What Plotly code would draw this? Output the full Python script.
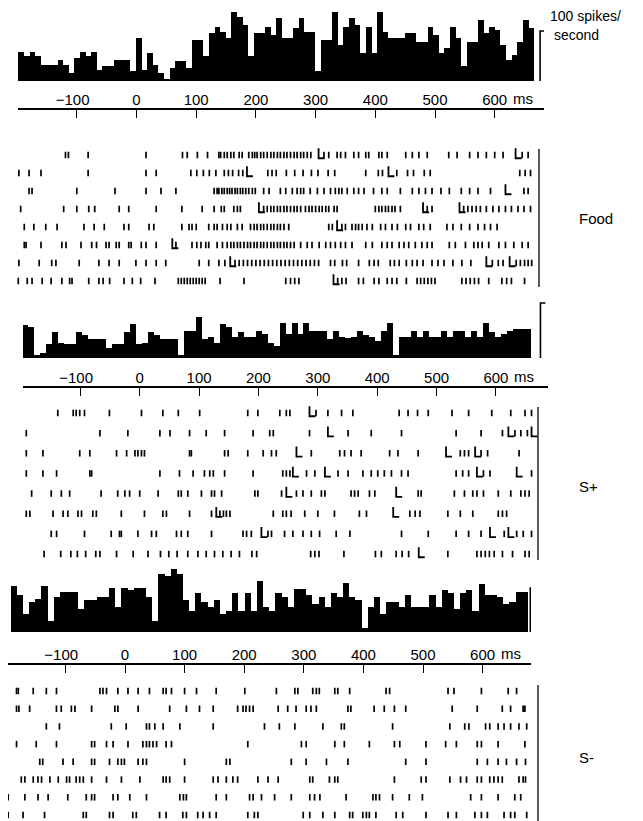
import plotly.graph_objects as go

W, H = 643, 821
FONT = "Liberation Sans, Arial, sans-serif"

# ---------------- data ----------------
TICK_MS = [-100, 0, 100, 200, 300, 400, 500, 600]
TICK_TEXT = ["\u2212100\u00a0\u00a0", "0", "100", "200", "300", "400", "500", "600"]
UNIT = "ms"
SCALE_RATE = 100
SCALE_TEXT = ["100 spikes/", "second"]
CONDITIONS = ["Food", "S+", "S-"]

# PSTH rates (spikes/second), consecutive bins
FOOD_RATE = [59, 50, 59, 50, 33, 33, 33, 43, 33, 17, 46, 59, 50, 59, 23, 30, 30, 43, 43, 43,
             20, 86, 23, 56, 33, 17, 3, 26, 40, 40, 26, 83, 83, 50, 96, 109, 99, 86, 139, 129,
             112, 50, 96, 96, 109, 93, 126, 86, 86, 106, 126, 99, 99, 20, 83, 83, 139, 73, 109, 126,
             112, 56, 109, 56, 139, 99, 86, 86, 86, 96, 96, 79, 79, 109, 93, 56, 66, 109, 86, 30,
             79, 79, 122, 96, 109, 102, 73, 43, 53, 79, 122, 106]
SPLUS_RATE = [60, 56, 6, 9, 25, 47, 28, 26, 25, 47, 41, 34, 34, 34, 19, 25, 25, 47, 61, 25,
              28, 47, 41, 34, 34, 34, 6, 50, 50, 75, 34, 38, 28, 61, 56, 38, 48, 38, 38, 50,
              44, 28, 22, 63, 44, 63, 44, 63, 50, 50, 50, 34, 50, 38, 36, 38, 50, 41, 38, 31,
              50, 63, 6, 38, 38, 50, 38, 50, 38, 38, 50, 38, 50, 50, 38, 50, 38, 63, 47, 38,
              44, 50, 53, 53, 53]
SMINUS_RATE = [104, 84, 40, 68, 76, 104, 24, 80, 90, 90, 90, 52, 73, 73, 80, 80, 101, 56, 101, 96,
               101, 101, 80, 24, 132, 128, 143, 132, 72, 48, 88, 68, 56, 72, 40, 48, 88, 48, 88, 48,
               116, 56, 48, 88, 80, 56, 98, 98, 84, 64, 80, 56, 88, 80, 112, 80, 72, 8, 56, 80,
               40, 68, 68, 56, 84, 56, 56, 56, 84, 56, 96, 88, 52, 88, 96, 48, 108, 84, 84, 80,
               64, 68, 92, 92]
FOOD_BINS = (-198, 666)     # time span of the PSTH (ms)
SPLUS_BINS = (-198, 659)
SMINUS_BINS = (-192, 676)

# rasters: spike times (ms) per trial, and lick/marker events (ms)
FOOD_SPIKES = [
    [-119, -114, -81, 16, 77, 85, 102, 119, 138, 141, 147, 152, 158, 163, 172, 177, 188, 194, 198, 202,
     208, 213, 219, 225, 230, 236, 241, 247, 252, 258, 264, 269, 275, 280, 286, 292, 314, 322, 336, 342,
     350, 364, 372, 384, 389, 406, 411, 420, 451, 462, 473, 487, 523, 537, 558, 572, 586, 600, 614, 646, 656],
    [-197, -180, -160, -81, 16, 33, 91, 101, 112, 122, 133, 147, 154, 161, 171, 178, 220, 227, 234, 251,
     265, 279, 293, 304, 321, 332, 384, 405, 412, 436, 454, 464, 482, 492, 642, 651, 660],
    [-180, -175, -100, -36, 16, 41, 66, 130, 135, 138, 143, 147, 152, 156, 160, 165, 169, 174, 178, 183,
     188, 194, 199, 213, 222, 241, 250, 261, 269, 275, 280, 291, 303, 314, 325, 333, 339, 344, 353, 364,
     372, 381, 397, 411, 420, 442, 462, 473, 484, 495, 510, 524, 544, 558, 572, 593, 649, 656],
    [-194, -122, -100, -80, -70, -29, -13, 33, 76, 110, 130, 142, 147, 163, 169, 174, 213, 219, 225, 230,
     236, 241, 247, 252, 258, 264, 269, 275, 283, 289, 294, 300, 306, 311, 317, 322, 331, 336, 400, 406,
     411, 417, 422, 428, 433, 442, 487, 495, 548, 555, 562, 569, 576, 586, 597, 607, 618, 628, 639, 649, 660],
    [-188, -172, -152, -133, -88, -71, -54, -21, -13, 21, 29, 76, 88, 93, 100, 121, 130, 135, 144, 152,
     158, 169, 177, 191, 197, 202, 208, 213, 219, 225, 230, 236, 241, 247, 255, 322, 328, 344, 350, 361,
     367, 372, 378, 386, 395, 409, 417, 428, 437, 451, 459, 473, 481, 492, 520, 530, 544, 558, 572, 583, 593, 604],
    [-188, -185, -160, -125, -118, -93, -75, -67, -51, -46, -34, -29, -13, -9, 8, 16, 33, 66, 93, 101,
     108, 116, 121, 135, 144, 152, 158, 163, 169, 174, 180, 186, 191, 197, 202, 208, 213, 219, 225, 230,
     236, 241, 247, 252, 258, 264, 275, 286, 294, 306, 317, 325, 333, 342, 350, 361, 384, 395, 411, 420,
     428, 440, 448, 456, 467, 478, 487, 495, 524, 534, 551, 565, 572, 579, 590, 607, 618, 632, 646, 656],
    [-197, -163, -142, -135, -96, -63, -46, -29, -1, 16, 33, 49, 105, 121, 138, 148, 165, 172, 179, 186,
     193, 200, 207, 214, 221, 228, 235, 242, 249, 256, 263, 270, 277, 284, 291, 298, 305, 325, 332, 345,
     352, 372, 390, 398, 405, 425, 432, 440, 452, 462, 470, 480, 495, 505, 515, 530, 545, 560, 596, 606,
     614, 636, 643, 650, 656, 662],
    [-198, -183, -175, -158, -143, -125, -112, -108, -80, -63, -56, -45, -21, -7, 7, 31, 70, 75, 80, 85,
     90, 95, 100, 105, 110, 115, 140, 180, 250, 258, 265, 272, 337, 344, 351, 372, 380, 398, 406, 420,
     428, 436, 452, 470, 476, 482, 488, 494, 500, 545, 552, 559, 566, 573, 590, 612, 620, 628, 650],
]
FOOD_LICKS = [[305, 635], [185, 422], [618], [205, 480, 541], [336], [60], [157, 586, 625], [330]]

SPLUS_SPIKES = [
    [-197, -138, -112, -107, -101, -93, -51, 3, 39, 65, 101, 182, 199, 236, 247, 253, 297, 317, 340, 359,
     437, 452, 468, 486, 526, 554, 593, 625, 649, 660],
    [-191, -67, -20, 34, 51, 84, 112, 143, 191, 219, 225, 286, 351, 390, 441, 533, 575, 611, 632, 642, 653],
    [-191, -163, -101, -84, -39, -22, -8, -3, 3, 8, 84, 87, 143, 149, 182, 208, 222, 230, 289, 337,
     345, 356, 373, 421, 435, 469, 540, 547, 554, 575, 586, 639],
    [-191, -163, -140, -84, -81, 34, 67, 90, 109, 118, 124, 143, 191, 241, 247, 253, 281, 295, 334, 351,
     376, 390, 401, 412, 424, 441, 452, 533, 544, 554, 579, 590, 660],
    [-182, -149, -132, -118, -65, -37, -25, -17, 0, 31, 65, 70, 81, 104, 121, 126, 138, 194, 199, 239,
     264, 275, 289, 306, 312, 356, 362, 368, 387, 396, 469, 474, 530, 547, 561, 568, 579, 604, 625, 642, 649, 656],
    [-197, -191, -185, -146, -129, -121, -104, -98, -79, -73, -31, 8, 39, 45, 84, 121, 135, 141, 146, 152,
     225, 241, 247, 255, 278, 300, 328, 370, 382, 455, 464, 472, 519, 540, 561, 604, 611, 618],
    [-197, -149, -140, -93, -48, -34, -31, -3, 20, 28, 62, 70, 81, 121, 174, 180, 188, 216, 222, 244,
     258, 275, 289, 303, 331, 354, 441, 486, 533, 554, 575, 614, 635, 646, 660],
    [-197, -161, -133, -116, -105, -91, -74, -67, -39, -11, 14, 35, 49, 63, 81, 98, 112, 126, 140, 154,
     168, 189, 197, 288, 295, 302, 344, 397, 407, 432, 442, 453, 519, 568, 575, 582, 589, 597, 611, 628, 649, 656],
]
SPLUS_LICKS = [[286], [317, 621, 660], [264, 516, 565], [258, 312, 568, 635], [247, 432], [129, 427],
               [205, 590, 621], [470]]

SMINUS_SPIKES = [
    [-182, -179, -154, -132, -115, -42, -37, -31, -12, 5, 22, 41, 64, 69, 78, 100, 120, 153, 201, 254,
     285, 290, 315, 321, 326, 352, 357, 377, 438, 444, 542, 552, 598, 643, 657],
    [-182, -178, -160, -115, -107, -90, -84, -56, -17, -12, 22, 75, 103, 125, 148, 189, 198, 203, 209, 215,
     257, 273, 287, 304, 312, 321, 374, 379, 418, 435, 452, 471, 549, 591, 633, 647, 668, 671],
    [-132, -110, -23, 2, 36, 41, 50, 64, 92, 148, 234, 259, 285, 332, 363, 368, 449, 545, 570, 577,
     605, 612, 626, 636, 647, 661, 674],
    [-182, -149, -115, -56, -51, -31, -20, 5, 30, 36, 41, 47, 53, 69, 78, 206, 296, 304, 352, 368,
     410, 452, 461, 505, 538, 556, 591, 598, 626, 671],
    [-143, -138, -104, -87, -56, -51, -26, -12, -6, -1, 22, 30, 36, 100, 170, 176, 279, 304, 338, 374,
     471, 505, 591, 608, 626, 640, 657, 672],
    [-174, -168, -154, -146, -140, -126, -112, -98, -93, -82, -76, -70, -56, -31, -6, 25, 64, 69, 75, 100,
     148, 156, 170, 181, 189, 223, 240, 257, 310, 315, 343, 352, 357, 452, 497, 505, 545, 563, 573, 591,
     598, 612, 619, 626, 633, 661, 668, 672],
    [-196, -168, -146, -129, -96, -65, -56, -51, -20, -12, 8, 36, 92, 98, 103, 153, 170, 209, 215, 229,
     251, 279, 310, 318, 327, 371, 416, 421, 427, 449, 477, 499, 580, 598, 626, 654, 664],
    [-196, -171, -135, -70, -65, -26, -20, 13, 19, 58, 69, 97, 103, 122, 131, 142, 153, 206, 217, 223,
     299, 310, 332, 352, 377, 382, 399, 405, 410, 421, 455, 466, 505, 542, 556, 587, 598, 608, 636, 647, 654, 674],
]
SMINUS_LICKS = [[] for _ in range(8)]

RATES = [FOOD_RATE, SPLUS_RATE, SMINUS_RATE]
BINS = [FOOD_BINS, SPLUS_BINS, SMINUS_BINS]
SPIKES = [FOOD_SPIKES, SPLUS_SPIKES, SMINUS_SPIKES]
LICKS = [FOOD_LICKS, SPLUS_LICKS, SMINUS_LICKS]

# ---------------- layout geometry (pixels) ----------------
GEOM = [
    dict(x0=128.5, k=0.597, ax_l=10, ax_r=536, base=73, line=100, top=0, s=0.50, scale_ms=676,
         r1=147, r8=273, vx=531, v0=141, v1=279, lab=(569, 211)),
    dict(x0=131.7, k=0.5937, ax_l=15, ax_r=540, base=350, line=378, top=280, s=0.55, scale_ms=675,
         r1=405, r8=546, vx=530, v0=399, v1=552, lab=(569, 478)),
    dict(x0=117.0, k=0.596, ax_l=0, ax_r=523, base=624, line=655, top=552, s=0.44, scale_ms=680,
         r1=683, r8=807, vx=530, v0=677, v1=815, lab=(569, 749)),
]
TICK_PX = 6.5      # raster tick height
LICK_PX = 10.0     # lick marker height
FOOT_PX = 6.0      # lick marker foot length


def py(v):
    return 1 - v / H


fig = go.Figure()
annotations = []
shapes = []
layout_axes = {}

for p in range(3):
    g = GEOM[p]
    hx, hy = 2 * p + 1, 2 * p + 1
    rx, ry = 2 * p + 2, 2 * p + 2
    xr = [(g["ax_l"] - g["x0"]) / g["k"], (g["ax_r"] - g["x0"]) / g["k"]]
    xdom = [g["ax_l"] / W, g["ax_r"] / W]

    # PSTH
    rates = RATES[p]
    b0, b1 = BINS[p]
    w = (b1 - b0) / len(rates)
    centers = [b0 + (j + 0.5) * w for j in range(len(rates))]
    fig.add_trace(go.Bar(x=centers, y=rates, width=w, marker=dict(color="black", line=dict(width=0)),
                         xaxis=f"x{hx}", yaxis=f"y{hy}", showlegend=False, hoverinfo="skip"))
    # calibration bar
    fig.add_trace(go.Scatter(x=[g["scale_ms"], g["scale_ms"], g["scale_ms"] + 5 / g["k"]],
                             y=[0, SCALE_RATE, SCALE_RATE], mode="lines",
                             line=dict(color="black", width=1.6), xaxis=f"x{hx}", yaxis=f"y{hy}",
                             showlegend=False, hoverinfo="skip", cliponaxis=False))

    yr = [-(g["line"] - g["base"]) / g["s"], (g["base"] - g["top"]) / g["s"]]
    layout_axes[f"xaxis{'' if hx == 1 else hx}"] = dict(
        domain=xdom, range=xr, anchor=f"y{hy}", showline=True, linecolor="black", linewidth=1.5,
        ticks="outside", ticklen=8, tickwidth=1.3, tickcolor="black",
        tickvals=TICK_MS, ticktext=TICK_TEXT, ticklabelposition="inside",
        tickfont=dict(family=FONT, size=15, color="black"), showgrid=False, zeroline=False)
    layout_axes[f"yaxis{'' if hy == 1 else hy}"] = dict(
        domain=[py(g["line"]), py(g["top"])], range=yr, visible=False, anchor=f"x{hx}")
    annotations.append(dict(text=UNIT, x=600, xref=f"x{hx}", y=py(g["line"] - 10), yref="paper",
                            xanchor="left", yanchor="middle", xshift=16, showarrow=False,
                            font=dict(family=FONT, size=15, color="black")))

    # raster
    d = (g["r8"] - g["r1"]) / 7
    top_px = g["r1"] - d / 2
    bot_px = min(g["r8"] + d / 2, H)
    ryr = [8 + (bot_px - g["r8"]) / d, 1 - (g["r1"] - top_px) / d]
    layout_axes[f"xaxis{rx}"] = dict(domain=xdom, range=xr, anchor=f"y{ry}", visible=False)
    layout_axes[f"yaxis{ry}"] = dict(domain=[py(bot_px), py(top_px)], range=ryr, visible=False,
                                     anchor=f"x{rx}")
    xs, ys = [], []
    for r, row in enumerate(SPIKES[p]):
        xs += row
        ys += [r + 1] * len(row)
    fig.add_trace(go.Scatter(x=xs, y=ys, mode="markers",
                             marker=dict(symbol="line-ns", size=TICK_PX / 1.4,
                                         line=dict(width=1.7, color="black")),
                             xaxis=f"x{rx}", yaxis=f"y{ry}", cliponaxis=False,
                             showlegend=False, hoverinfo="skip"))
    lx, ly = [], []
    bottom = (TICK_PX / 2) / d
    topo = (TICK_PX / 2 - LICK_PX) / d
    foot = FOOT_PX / g["k"]
    for r, row in enumerate(LICKS[p]):
        for t in row:
            lx += [t, t, t + foot, None]
            ly += [r + 1 + topo, r + 1 + bottom, r + 1 + bottom, None]
    if lx:
        fig.add_trace(go.Scatter(x=lx, y=ly, mode="lines", line=dict(color="black", width=1.8),
                                 xaxis=f"x{rx}", yaxis=f"y{ry}", showlegend=False, hoverinfo="skip"))
    shapes.append(dict(type="line", xref="paper", yref="paper", x0=g["vx"] / W, x1=g["vx"] / W,
                       y0=py(g["v0"]), y1=py(g["v1"]), line=dict(color="black", width=1.3)))
    annotations.append(dict(text=CONDITIONS[p], x=g["lab"][0] / W, y=py(g["lab"][1]), xref="paper",
                            yref="paper", xanchor="left", yanchor="middle", showarrow=False,
                            font=dict(family=FONT, size=15, color="black")))

annotations.append(dict(text=SCALE_TEXT[0], x=540 / W, y=py(8), xref="paper", yref="paper",
                        xanchor="left", yanchor="middle", showarrow=False,
                        font=dict(family=FONT, size=14, color="black")))
annotations.append(dict(text=SCALE_TEXT[1], x=544 / W, y=py(27), xref="paper", yref="paper",
                        xanchor="left", yanchor="middle", showarrow=False,
                        font=dict(family=FONT, size=14, color="black")))

fig.update_layout(width=W, height=H, margin=dict(l=0, r=0, t=0, b=0), paper_bgcolor="white",
                  plot_bgcolor="rgba(0,0,0,0)", showlegend=False, annotations=annotations,
                  shapes=shapes, bargap=0, **layout_axes)
fig.write_html("out.html")
